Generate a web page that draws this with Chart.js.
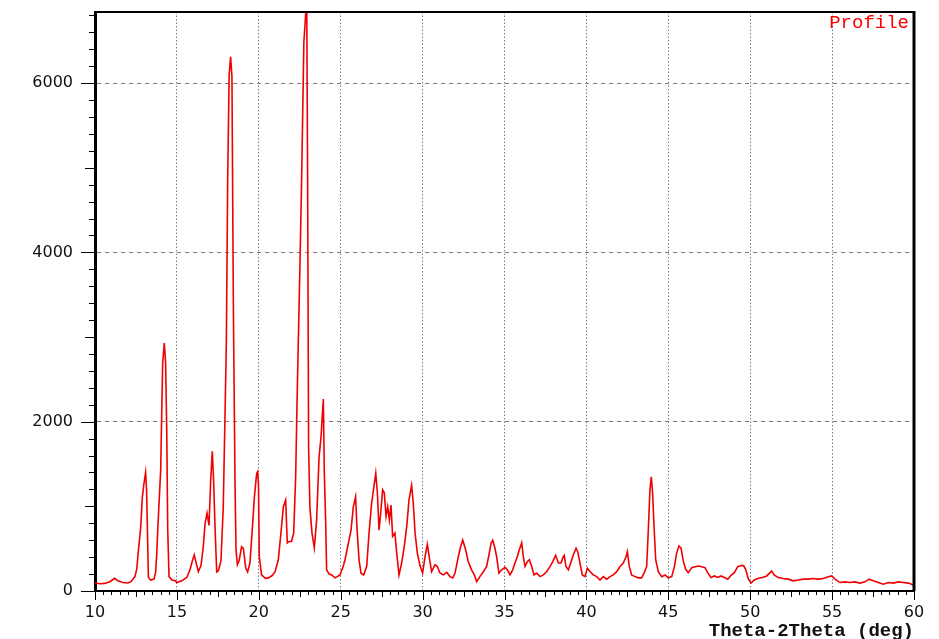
<!DOCTYPE html>
<html>
<head>
<meta charset="utf-8">
<script src="https://cdn.jsdelivr.net/npm/chart.js@4.4.1/dist/chart.umd.min.js"></script>
<style>
  body { margin: 0; background: #fff; }
  canvas { display: block; }
</style>
</head>
<body>
<canvas id="xrd" width="939" height="639"></canvas>
<script>
// 2theta positions (deg) and intensities
const twoTheta = [
  10.0, 10.3, 10.6, 10.9, 11.2, 11.4, 11.7, 12.0, 12.2, 12.44, 12.55, 12.65, 12.79, 12.89, 12.99,
  13.09, 13.15, 13.2, 13.26, 13.4, 13.6, 13.7, 13.76, 13.87, 14.01, 14.13, 14.23, 14.31, 14.38, 14.44,
  14.52, 14.7, 14.9, 15.0, 15.3, 15.6, 15.8, 15.94, 16.06, 16.17, 16.31, 16.47, 16.61, 16.72, 16.84,
  16.96, 17.06, 17.16, 17.24, 17.33, 17.43, 17.53, 17.69, 17.83, 17.94, 18.02, 18.1, 18.19, 18.28, 18.36,
  18.45, 18.55, 18.61, 18.69, 18.8, 18.95, 19.06, 19.2, 19.32, 19.46, 19.6, 19.73, 19.87, 19.93, 19.98,
  20.03, 20.17, 20.4, 20.58, 20.8, 20.99, 21.19, 21.35, 21.5, 21.64, 21.74, 21.86, 22.0, 22.13, 22.25,
  22.35, 22.51, 22.61, 22.75, 22.87, 22.93, 22.98, 23.04, 23.12, 23.25, 23.39, 23.53, 23.68, 23.8, 23.94,
  24.0, 24.08, 24.14, 24.3, 24.45, 24.65, 24.96, 25.16, 25.26, 25.47, 25.63, 25.77, 25.91, 25.99, 26.12,
  26.24, 26.4, 26.59, 26.73, 26.89, 27.03, 27.14, 27.24, 27.34, 27.44, 27.56, 27.66, 27.77, 27.87, 27.97,
  28.07, 28.17, 28.31, 28.42, 28.56, 28.72, 28.88, 29.03, 29.17, 29.33, 29.43, 29.54, 29.68, 29.84, 30.0,
  30.15, 30.29, 30.41, 30.55, 30.76, 30.9, 31.06, 31.27, 31.47, 31.67, 31.84, 31.98, 32.18, 32.32, 32.45,
  32.63, 32.79, 32.99, 33.16, 33.3, 33.5, 33.71, 33.91, 34.05, 34.18, 34.28, 34.4, 34.52, 34.66, 34.83,
  35.03, 35.17, 35.34, 35.5, 35.64, 35.78, 35.9, 36.05, 36.15, 36.25, 36.39, 36.52, 36.66, 36.8, 36.96,
  37.17, 37.37, 37.57, 37.78, 37.94, 38.12, 38.29, 38.45, 38.59, 38.65, 38.75, 38.9, 39.04, 39.2, 39.37,
  39.47, 39.61, 39.75, 39.91, 40.06, 40.22, 40.42, 40.63, 40.83, 41.03, 41.24, 41.44, 41.64, 41.85, 42.05,
  42.25, 42.42, 42.5, 42.62, 42.76, 42.97, 43.17, 43.37, 43.52, 43.68, 43.78, 43.88, 43.96, 44.04, 44.13,
  44.23, 44.39, 44.6, 44.8, 45.0, 45.21, 45.37, 45.51, 45.65, 45.78, 45.92, 46.06, 46.22, 46.43, 46.63,
  46.84, 47.04, 47.24, 47.4, 47.61, 47.81, 48.02, 48.22, 48.42, 48.63, 48.83, 49.03, 49.24, 49.44, 49.6,
  49.72, 49.89, 50.05, 50.25, 50.5, 50.74, 51.01, 51.21, 51.31, 51.47, 51.72, 52.02, 52.33, 52.63, 52.94,
  53.25, 53.55, 53.86, 54.16, 54.47, 54.77, 54.97, 55.18, 55.48, 55.79, 56.09, 56.4, 56.7, 57.01, 57.25,
  57.52, 57.82, 58.13, 58.43, 58.74, 59.05, 59.35, 59.66, 59.96, 60.0
];
const counts = [
  95, 85, 90, 110, 150, 120, 100, 95, 110, 170, 260, 480, 750, 1110, 1270,
  1400, 1190, 720, 160, 130, 140, 220, 405, 880, 1430, 2690, 2930, 2700, 1900, 720,
  170, 130, 120, 100, 120, 160, 250, 354, 425, 335, 230, 300, 523, 795, 920,
  775, 1290, 1650, 1310, 740, 225, 240, 355, 995, 2100, 2950, 4860, 6100, 6310, 6080,
  3300, 1250, 485, 310, 360, 523, 500, 275, 225, 330, 720, 1110, 1390, 1410, 1260,
  405, 190, 150, 155, 180, 225, 366, 685, 995, 1075, 567, 585, 585, 685, 1350,
  2380, 3825, 4820, 6480, 6840, 6840, 4900, 1700, 985, 680, 510, 838, 1586, 1822, 2268,
  1393, 838, 248, 200, 190, 155, 190, 295, 366, 567, 720, 995, 1114, 760, 366,
  210, 190, 295, 685, 1040, 1235, 1390, 1160, 720, 920, 1195, 1160, 880, 995, 840,
  1015, 645, 685, 445, 190, 330, 525, 760, 1075, 1250, 1040, 685, 445, 300, 212,
  405, 550, 395, 228, 310, 290, 212, 190, 220, 170, 155, 212, 405, 523, 602,
  485, 345, 250, 190, 110, 170, 228, 290, 425, 565, 600, 520, 405, 212, 250,
  280, 250, 190, 250, 330, 405, 485, 570, 405, 290, 345, 370, 290, 190, 212,
  170, 190, 228, 290, 345, 420, 330, 330, 405, 420, 290, 250, 330, 425, 505,
  465, 330, 190, 170, 270, 230, 190, 170, 130, 170, 140, 170, 190, 228, 290,
  330, 405, 465, 290, 190, 170, 155, 155, 212, 290, 720, 1193, 1350, 1157, 760,
  370, 228, 170, 190, 155, 170, 287, 448, 531, 505, 350, 256, 217, 276, 287,
  295, 287, 276, 217, 160, 178, 160, 178, 160, 140, 186, 217, 287, 300, 300,
  256, 140, 93, 130, 150, 160, 178, 217, 236, 186, 160, 148, 140, 120, 130,
  140, 140, 148, 140, 148, 168, 178, 140, 100, 108, 100, 108, 93, 108, 140,
  120, 100, 80, 100, 93, 108, 100, 93, 70, 70
];

const xLabelTicks = [10, 15, 20, 25, 30, 35, 40, 45, 50, 55, 60];
const yLabelTicks = [0, 2000, 4000, 6000];
const xMin = 10, xMax = 60, yMin = 0, yMax = 6840;

const gridGrey = '#7c7c7c';

// frame, minor ticks and the "Profile" tag
const framePlugin = {
  id: 'frame',
  afterDraw(chart) {
    const { ctx, chartArea: a, scales: { x, y } } = chart;
    ctx.save();
    ctx.strokeStyle = '#000';
    ctx.lineWidth = 2;
    ctx.beginPath();
    ctx.moveTo(a.left, a.top);
    ctx.lineTo(a.right, a.top);
    ctx.stroke();
    ctx.lineWidth = 3;
    ctx.beginPath();
    ctx.moveTo(a.right, a.top - 1);
    ctx.lineTo(a.right, a.bottom);
    ctx.stroke();

    ctx.lineWidth = 1;
    for (let v = xMin; v <= xMax + 0.001; v += 0.5) {
      const px = Math.round(x.getPixelForValue(v)) + 0.5;
      const len = v % 5 === 0 ? 9 : (v % 2.5 === 0 ? 6 : 4);
      ctx.beginPath();
      ctx.moveTo(px, a.bottom);
      ctx.lineTo(px, a.bottom + len);
      ctx.stroke();
    }
    for (let v = yMin; v <= yMax; v += 200) {
      const py = Math.round(y.getPixelForValue(v)) + 0.5;
      const len = v % 2000 === 0 ? 14 : (v % 1000 === 0 ? 10 : 6);
      ctx.beginPath();
      ctx.moveTo(a.left, py);
      ctx.lineTo(a.left - len, py);
      ctx.stroke();
    }

    ctx.fillStyle = '#ff0000';
    ctx.font = '19px "Liberation Mono"';
    ctx.textAlign = 'right';
    ctx.textBaseline = 'middle';
    ctx.fillText(chart.data.datasets[0].label, a.right - 5, a.top + 11);
    ctx.restore();
  }
};

new Chart(document.getElementById('xrd'), {
  type: 'line',
  data: {
    datasets: [{
      label: 'Profile',
      data: twoTheta.map((t, i) => ({ x: t, y: counts[i] })),
      borderColor: '#f00000',
      borderWidth: 1.6,
      pointRadius: 0,
      tension: 0,
      fill: false
    }]
  },
  options: {
    responsive: false,
    animation: false,
    devicePixelRatio: 1,
    layout: { padding: { top: 12, right: 25, left: 0, bottom: 0 } },
    plugins: {
      legend: { display: false },
      tooltip: { enabled: false }
    },
    scales: {
      x: {
        type: 'linear',
        min: xMin,
        max: xMax,
        afterFit: s => { s.height = 48; s.paddingLeft = 0; s.paddingRight = 0; },
        afterBuildTicks: s => { s.ticks = xLabelTicks.map(v => ({ value: v })); },
        ticks: {
          padding: 12,
          color: '#111',
          font: { family: 'DejaVu Sans', size: 16 },
          maxRotation: 0,
          autoSkip: false,
          callback: v => String(v)
        },
        grid: {
          drawTicks: false,
          lineWidth: 1,
          color: c => (c.tick && c.tick.value > xMin && c.tick.value < xMax) ? gridGrey : 'transparent'
        },
        border: { display: true, color: '#000', width: 2, dash: [1.5, 2] },
        title: {
          display: true,
          text: 'Theta-2Theta (deg)',
          align: 'end',
          color: '#111',
          font: { family: 'Liberation Mono', size: 19, weight: 'bold', lineHeight: '16px' },
          padding: { top: 0, bottom: 0 }
        }
      },
      y: {
        min: yMin,
        max: yMax,
        afterFit: s => { s.width = 95; s.paddingTop = 0; s.paddingBottom = 0; },
        afterBuildTicks: s => { s.ticks = yLabelTicks.map(v => ({ value: v })); },
        ticks: {
          padding: 22,
          color: '#111',
          font: { family: 'DejaVu Sans', size: 16 },
          callback: v => String(v)
        },
        grid: {
          drawTicks: false,
          lineWidth: 1,
          color: c => (c.tick && c.tick.value > yMin && c.tick.value < yMax) ? gridGrey : 'transparent'
        },
        border: { display: true, color: '#000', width: 3, dash: [4, 4] }
      }
    }
  },
  plugins: [framePlugin]
});
</script>
</body>
</html>
